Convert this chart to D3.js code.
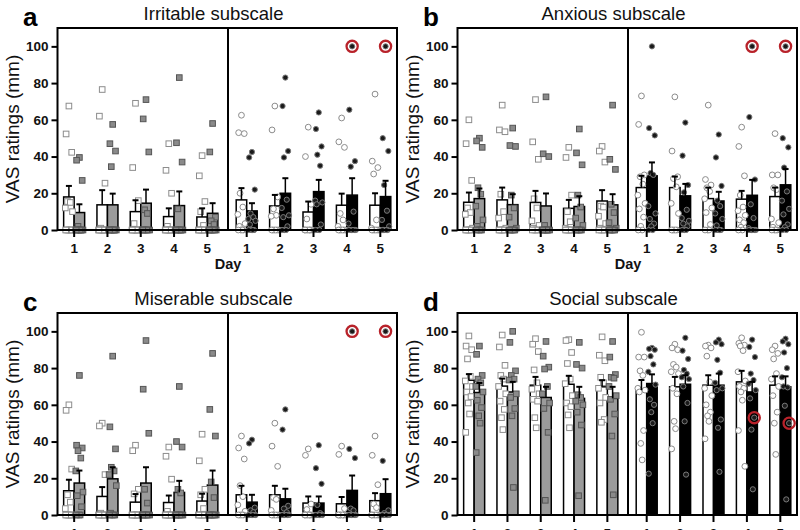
<!DOCTYPE html>
<html><head><meta charset="utf-8">
<script src="https://cdn.jsdelivr.net/npm/d3@7"></script>
<style>body{margin:0;background:#fff}svg{display:block;font-family:"Liberation Sans",Arial,Helvetica,sans-serif}</style>
</head><body><svg id="chart" width="800" height="530"></svg>
<script>
const days = [1, 2, 3, 4, 5];
const yTicks = [0, 20, 40, 60, 80, 100];
const panelLetters = ["a", "b", "c", "d"];
const panelTitles = ["Irritable subscale", "Anxious subscale", "Miserable subscale", "Social subscale"];
const yLabel = "VAS ratings (mm)";
const xLabel = "Day";

// group order: [left open, left gray, right open, right black]; each row = days 1..5
const irritableMean = [[18, 13.7, 10, 7.3, 7.1], [9.5, 13.7, 14.6, 13.3, 9.1], [16.4, 13.1, 9.8, 13.5, 13.5], [10.4, 20, 20.9, 19, 18.2]];
const irritableSem = [[6, 8, 6.2, 4.5, 4.7], [4.5, 6.1, 7.4, 7.7, 5.5], [6.4, 6, 5.7, 6.3, 6.5], [4.2, 8.2, 6.4, 9.2, 8.6]];
const irritablePoints = [
  [[67.5,52.3,42.3,15.5,15,12,10,0,0,0,0,0,0],[76.5,62,25.5,1,0,0,0,0,0,0,0,0],[69,34,16,3.5,0,0,0,0,0,0,0,0],[47,32.5,20,2,0,0,0,0,0,0,0,0],[40.5,29.5,15.5,10,2.5,0,0,0,0,0,0,0]],
  [[39.5,38,27,2,0,0,0,0,0,0,0,0],[57.5,47,43,34.5,0,0,0,0,0,0,0,0],[71,60.5,42.5,11,9,0,0,0,0,0,0,0],[83,47.5,37,11.5,0,0,0,0,0,0,0,0],[58,42.5,7,5,3,0,0,0,0,0,0,0]],
  [[62.5,53,52.5,20,12.5,8.5,3.5,2,0,0,0,0],[67.5,54.5,18,11.5,8,7.5,0,0,0,0,0,0],[56,40,14,6,0,0,0,0,0,0,0,0],[61,48,45,9,5.5,2,0,0,0,0,0,0],[74,37.5,34,30.5,5.5,1,0,0,0,0,0,0]],
  [[42.5,39.5,22,9,7,6,5,3,0,0,0,0],[83,67.5,43,39.5,16.5,12,8,7,2,0,0,0],[64,55,45.5,41,35,16,15,14,3,0,0,0],[100,65.5,37.5,34.5,10,3.5,0,0,0,0,0,0],[100,50,43,24.5,10.5,5.5,2,0,0,0,0,0]]
];

const anxiousMean = [[15.1, 16.4, 15, 11.8, 15.8], [17.1, 13.8, 13.1, 12.8, 13.7], [23.1, 23.1, 17.1, 16.8, 18.2], [29.5, 18.6, 15.8, 18.9, 24.6]];
const anxiousSem = [[5.3, 6.7, 6.3, 4.6, 5.9], [5.5, 5.7, 6.8, 5.6, 5.8], [6.4, 6, 6, 4.5, 4.9], [7.3, 6.5, 5, 8.4, 8.6]];
const anxiousPoints = [
  [[60,47,27,12,9.5,8.5,1,0,0,0,0,0],[68,54.5,53.5,19.5,10,6.5,1,0,0,0,0,0],[71,48,38.5,17,12,5,2.5,1,0,0,0,0],[45,39.5,19,10,4.5,1,0,0,0,0,0,0],[45.5,43,37,13,12.5,7.5,3.5,1,0,0,0,0]],
  [[50,48.5,45,23,19.5,13,5.5,2,0,0,0,0],[55.5,46,45.5,19,12,7,1,0,0,0,0,0],[72.5,41.5,40,2.5,0,0,0,0,0,0,0,0],[55,42,35.5,19,12.5,6.5,2.5,0,0,0,0,0],[68,38.5,33,14,9.5,4,1,0,0,0,0,0]],
  [[73,57.5,30,29,25,19,14.5,11.5,7,2,0,0],[72.5,43,29,28,23.5,14.5,9,0,0,0,0,0],[68,27.5,24.5,23,21,17,12,9.5,3,0,0,0],[56,45.5,29.5,19,12.5,10.5,8,5.5,4,1.5,0,0],[52.5,30,30,23,22,6,4,1.5,0,0,0,0]],
  [[100,55.5,51.5,31,30,13,9,6,3.5,2,0,0],[58.5,40.5,24.5,20.5,11,6.5,5,3.5,2,0,0,0],[52,39.5,24,16,13,9,6,2.5,0,0,0,0],[100,61.5,27.5,14,6.5,1,0,0,0,0,0,0],[100,50,45,34,21,16,11.5,8.5,3,1.5,0,0]]
];

const miserableMean = [[13.2, 10.1, 7, 6.8, 7.6], [17.4, 19.7, 17.4, 12.3, 16.3], [11, 11, 6.5, 6.1, 7.8], [7, 8.8, 6.5, 13.4, 11.6]];
const miserableSem = [[6, 5.1, 4.4, 3.8, 4], [6.8, 6.3, 8.6, 6.3, 7.9], [4.9, 4.9, 3.6, 3.7, 4.1], [4, 5.5, 3.6, 8.1, 7.9]];
const miserablePoints = [
  [[60,57,25,11,7,3.5,0,0,0,0,0,0],[50,48.5,22,1,0,0,0,0,0,0,0,0],[38,35,14,11.5,0,0,0,0,0,0,0,0],[37,32,19.5,2,0,0,0,0,0,0,0,0],[44,29.5,14,11,3.5,0,0,0,0,0,0,0]],
  [[76,38,36.5,35,31,24,12.5,10.5,4.5,0,0,0],[86.5,48,36,26,24,22,16,1,0,0,0,0],[95,68.5,44.5,14,6.5,0,0,0,0,0,0,0],[70,40,37,14,12,0,0,0,0,0,0,0],[88,57.5,43,18,9.5,0,0,0,0,0,0,0]],
  [[43,36.5,30.5,16,10,5.5,2,0,0,0,0,0],[50,37.5,26.5,9.5,8.5,2.5,0,0,0,0,0,0],[36,32.5,6,3,0,0,0,0,0,0,0,0],[37.5,33,3.5,0,0,0,0,0,0,0,0,0],[43,32.5,16.5,6,4,0,0,0,0,0,0,0]],
  [[41,39,4,2.5,1.5,0,0,0,0,0,0,0],[57.5,46.5,5,3.5,1.5,0,0,0,0,0,0,0],[38,25.5,17,5.5,1,0,0,0,0,0,0,0],[100,36,31,3.5,2.5,0,0,0,0,0,0,0],[100,29.5,2.5,1,0,0,0,0,0,0,0,0]]
];

const socialMean = [[73.4, 70.2, 70.7, 71.2, 69.8], [66.7, 67, 64, 63.5, 63.5], [68, 69.8, 70.7, 72.5, 70.7], [71.6, 71.2, 70.7, 67, 69.8]];
const socialSem = [[3.3, 4.1, 4.5, 4.6, 3.6], [5.2, 5.5, 5.8, 6.3, 6.3], [5.5, 5.4, 5.4, 6, 4.8], [5, 4.9, 6.3, 5.5, 5.7]];
const socialPoints = [
  [[97.5,92,90,85,75.5,73,70,67,64.5,61,55,45],[98,91.5,81.5,76,74,70,66,62,57.5,53,46.5],[96,93,89,79,72,68.5,66,63,62,53,47.5],[95.5,95,88.5,82.5,74,71.5,65,61,59,54.5,47.5],[97,87,84,75,72,69,64,61,52,50.5]],
  [[92,87.5,76,74,72,70,67,62.5,58.5,54,50,34],[100,94,78.5,76,74,73.5,66,64,58,54,15],[94.5,86.5,80.5,79.5,70,66,61,58,45,8],[94,82,80,65.5,64,62,60,56,49,10.5],[94.5,86,76.5,75,74.5,70,65,63,55,43,11]],
  [[99.5,86,86,78.5,76,69,68,67,46,39,30],[93,91,90,82,80.5,78,77,69,66,51,47,36],[92.5,92,91,86.5,72.5,69,65,60,56,54,51,41.5],[96.5,93.5,92.5,92,89.5,78,73,70,69,67,62.5,46,26.5],[92,90,88,85,77,74,70,65,56,50,33]],
  [[91,90.5,90,86.5,82,78,71,63,60,56,50,22.5],[96.5,89.5,85,79,77,75,74,70,61,51,22],[95.5,94,93,84.5,77.5,72,69,68,52,47.5,23.5],[95.5,91.5,86,77,73.5,71.5,68,63.5,53,46.5,14],[96,94.5,93,88.5,80,75,50,70,69.5,59.5,8.5]]
];

// highlighted observations: [panel, group, day, value]
const circled = [[0,3,4,100],[0,3,5,100],[1,3,4,100],[1,3,5,100],[2,3,4,100],[2,3,5,100],[3,3,4,53],[3,3,5,50]];

const panels = [
  {mean: irritableMean, sem: irritableSem, pts: irritablePoints},
  {mean: anxiousMean, sem: anxiousSem, pts: anxiousPoints},
  {mean: miserableMean, sem: miserableSem, pts: miserablePoints},
  {mean: socialMean, sem: socialSem, pts: socialPoints}
];

const svg = d3.select("#chart");
const W = 339.5, H = 202, HALF = 170.5, BW = 10.5;
const lefts = [57.5, 457.5], tops = [28, 313];
const jit = [0, -2.8, 2.8, -1.4, 1.4, -3.6, 3.6, -2.1, 2.1, -0.7, 0.7, -3.2, 3.2];
const barFill = ["#ffffff", "#9b9b9b", "#ffffff", "#000000"];

panels.forEach((p, k) => {
  const col = k % 2, row = Math.floor(k / 2);
  const L = lefts[col], T = tops[row];
  const g = svg.append("g").attr("transform", `translate(${L},${T})`);
  const y = d3.scaleLinear().domain([0, 110]).range([H, 0]);
  const xL = d3.scaleBand().domain(days).range([0, 166.5]);
  const xR = d3.scaleBand().domain(days).range([172.5, W]);
  const cx = (grp, d) => { const s = grp < 2 ? xL : xR; return s(d) + s.bandwidth() / 2; };
  const barX = (grp, d) => (grp % 2 === 0 ? cx(grp, d) - BW : cx(grp, d));

  // bars
  for (let grp = 0; grp < 4; grp++) {
    g.selectAll(null).data(days).enter().append("rect")
      .attr("x", d => barX(grp, d)).attr("width", BW)
      .attr("y", (d, i) => y(p.mean[grp][i])).attr("height", (d, i) => H - y(p.mean[grp][i]))
      .attr("fill", barFill[grp]).attr("stroke", "#000").attr("stroke-width", 1.5);
  }
  // points
  const ptX = (grp, d, j) => barX(grp, d) + BW / 2 + jit[j % jit.length];
  for (let grp = 0; grp < 4; grp++) {
    days.forEach((d, i) => {
      const vals = p.pts[grp][i].map((v, j) => ({v, j}));
      const sel = g.selectAll(null).data(vals).enter();
      if (grp < 2) {
        sel.append("rect").attr("width", 5.6).attr("height", 5.6)
          .attr("x", o => ptX(grp, d, o.j) - 2.8).attr("y", o => y(o.v) - 2.8)
          .attr("fill", grp === 0 ? "#fff" : "#8a8a8a")
          .attr("stroke", grp === 0 ? "#8c8c8c" : "#555").attr("stroke-width", 1);
      } else {
        sel.append("circle").attr("r", grp === 2 ? 2.9 : 2.6)
          .attr("cx", o => ptX(grp, d, o.j)).attr("cy", o => y(o.v))
          .attr("fill", grp === 2 ? "#fff" : "#1a1a1a")
          .attr("stroke", grp === 2 ? "#8c8c8c" : "#7a7a7a").attr("stroke-width", 1);
      }
    });
  }
  // error bars (upper SEM)
  for (let grp = 0; grp < 4; grp++) {
    days.forEach((d, i) => {
      const xc = barX(grp, d) + BW / 2;
      const m = p.mean[grp][i], s = p.sem[grp][i];
      g.append("line").attr("x1", xc).attr("x2", xc).attr("y1", y(m)).attr("y2", y(m + s))
        .attr("stroke", "#000").attr("stroke-width", 1.5);
      g.append("line").attr("x1", xc - 3).attr("x2", xc + 3).attr("y1", y(m + s)).attr("y2", y(m + s))
        .attr("stroke", "#000").attr("stroke-width", 2);
    });
  }
  // red highlight circles
  circled.filter(c => c[0] === k).forEach(c => {
    const grp = c[1], d = c[2], i = days.indexOf(d);
    const j = p.pts[grp][i].indexOf(c[3]);
    g.append("circle").attr("cx", ptX(grp, d, j)).attr("cy", y(c[3])).attr("r", 5.6)
      .attr("fill", "none").attr("stroke", "#b8222a").attr("stroke-width", 2.3);
  });

  // frame and divider
  g.append("rect").attr("x", 0).attr("y", 0).attr("width", W).attr("height", H)
    .attr("fill", "none").attr("stroke", "#000").attr("stroke-width", 2);
  g.append("line").attr("x1", HALF).attr("x2", HALF).attr("y1", 0).attr("y2", H)
    .attr("stroke", "#000").attr("stroke-width", 2);

  // y axis
  const ya = g.append("g").call(d3.axisLeft(y).tickValues(yTicks).tickSize(6).tickPadding(3));
  ya.select(".domain").remove();
  ya.selectAll(".tick line").attr("stroke-width", 2);
  ya.selectAll(".tick text").attr("font-size", 13.5).attr("font-weight", "bold").attr("fill", "#111")
    .attr("font-family", "'Liberation Sans', Arial, sans-serif");

  // x axes
  [xL, xR].forEach(s => {
    const xa = g.append("g").attr("transform", `translate(0,${H})`)
      .call(d3.axisBottom(s).tickSize(7).tickPadding(6));
    xa.select(".domain").remove();
    xa.selectAll(".tick line").attr("stroke-width", 2);
    xa.selectAll(".tick text").attr("font-size", 13.5).attr("font-weight", "bold").attr("fill", "#111")
      .attr("font-family", "'Liberation Sans', Arial, sans-serif");
  });

  g.append("text").attr("x", HALF).attr("y", H + 39).attr("text-anchor", "middle")
    .attr("font-size", 14.5).attr("font-weight", "bold").attr("fill", "#111").text(xLabel);

  g.append("text").attr("x", 156).attr("y", -8).attr("text-anchor", "middle")
    .attr("font-size", 18.5).attr("fill", "#111").text(panelTitles[k]);

  g.append("text").attr("x", -34.5).attr("y", -2).attr("font-size", 26).attr("font-weight", "bold")
    .attr("fill", "#000").text(panelLetters[k]);

  g.append("text").attr("transform", `translate(-39,${H / 2}) rotate(-90)`).attr("text-anchor", "middle")
    .attr("font-size", 19).attr("fill", "#111").text(yLabel);
});
</script>
</body></html>
